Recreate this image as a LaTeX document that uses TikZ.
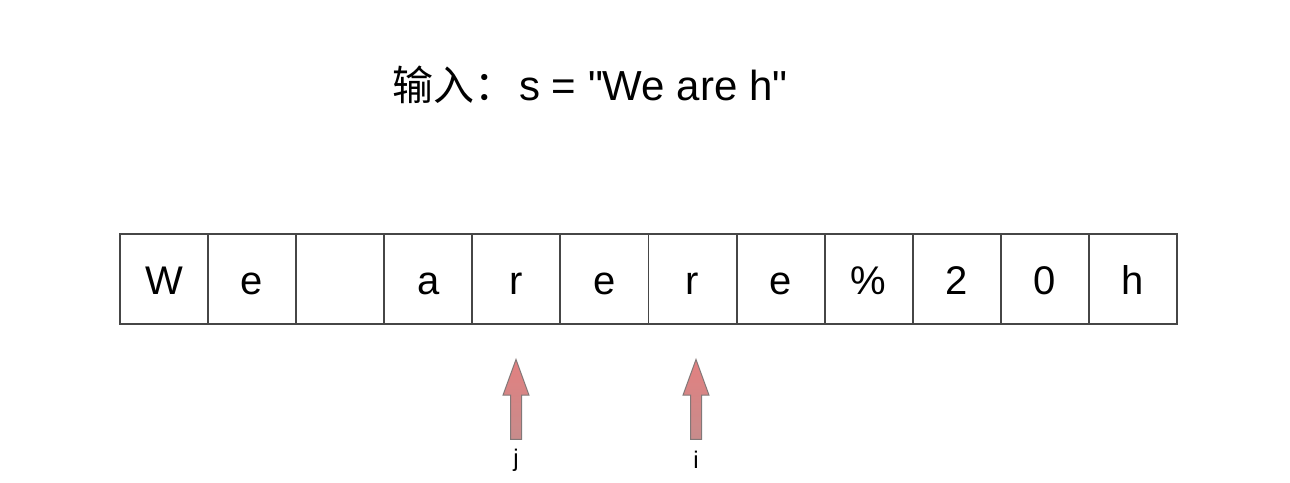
\documentclass[tikz,border=0pt]{standalone}
\usepackage{fontspec}
\setmainfont{Liberation Sans}[Ligatures=TeXOff]
\newfontfamily\cjk{Noto Sans CJK SC}
\usetikzlibrary{shapes.arrows}
\definecolor{ptrtop}{RGB}{226,128,128}
\definecolor{ptrbot}{RGB}{200,140,140}
\definecolor{ptrline}{RGB}{130,120,120}
\definecolor{cellline}{RGB}{70,70,70}
\begin{document}
\begin{tikzpicture}[x=1pt,y=-1pt,
  cell/.style={draw=cellline, line width=1.8pt, minimum width=88pt, minimum height=90pt, inner sep=0pt, text height=32pt, text depth=0pt, font=\fontsize{40}{40}\selectfont, anchor=north west},
  ptr/.style={single arrow, draw=ptrline, top color=ptrtop, bottom color=ptrbot, line width=1pt, shape border rotate=90, minimum height=80pt, inner sep=5pt, single arrow head extend=7.5pt, single arrow tip angle=40},
  lbl/.style={font=\fontsize{24}{24}\selectfont}]
\useasboundingbox (0,0) rectangle (1290,482);
\node[anchor=base west, inner sep=0pt] (title) at (392,100) {{\cjk\fontsize{41}{41}\selectfont 输入：}\hspace{4pt}{\fontsize{42}{42}\selectfont s = "We are h"}};
\foreach \t [count=\k from 0] in {W,e,{},a,r,e,r,e,\%,2,0,h} {
  \node[cell] (c\k) at ({119+88.1*\k},233) {\t};
}
\node[ptr] (pj) at (516,407) {};
\node[ptr] (pi) at (696,407) {};
\node[lbl] (lj) at (516,460) {j};
\node[lbl] (li) at (696,460) {i};
\end{tikzpicture}
\end{document}
